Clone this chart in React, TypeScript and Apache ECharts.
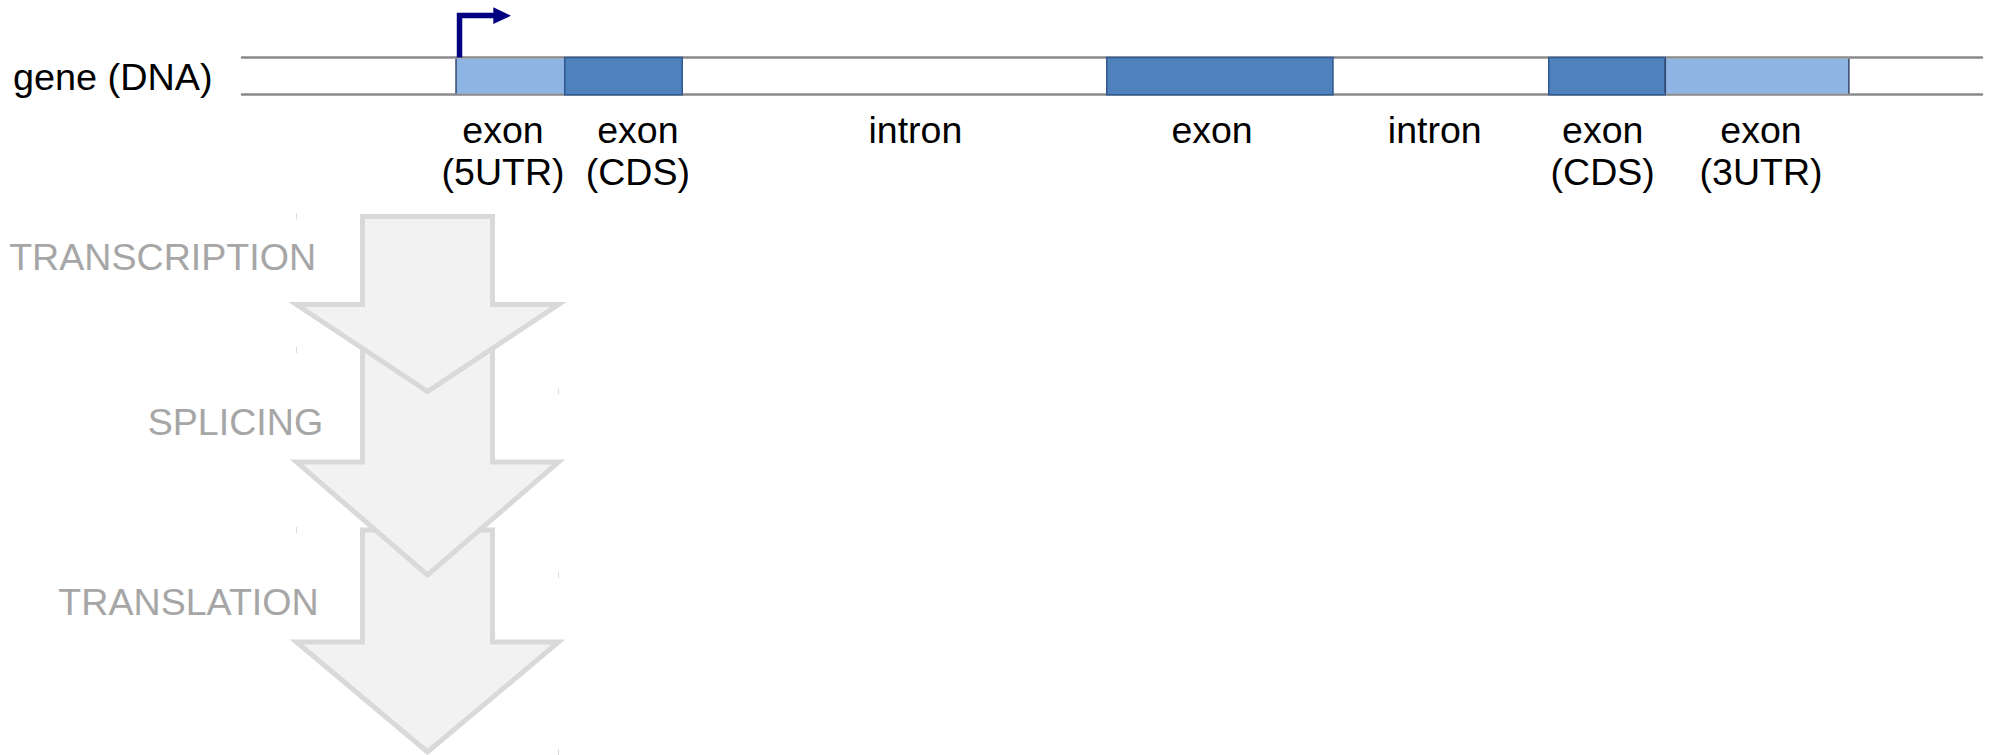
import React, { useEffect, useRef } from 'react';
import * as echarts from 'echarts';

// ---- data (gene coordinates, arbitrary units 0..1000) ----
const geneMin = 0;
const geneMax = 1000;
const exonStart = [123, 185.5, 497, 751, 818];
const exonEnd = [185.5, 253, 627, 818, 923.5];
const exonType = ['UTR', 'CDS', 'CDS', 'CDS', 'UTR'];
const featurePos = [150, 227.5, 387, 557.5, 685.5, 782, 873];
const featureLabels = ['exon\n(5UTR)', 'exon\n(CDS)', 'intron', 'exon', 'intron', 'exon\n(CDS)', 'exon\n(3UTR)'];
const tssPos = [123];
const trackLabel = 'gene (DNA)';
const steps = ['TRANSCRIPTION', 'SPLICING', 'TRANSLATION'];

const FONT = '"Liberation Sans", Arial, Helvetica, sans-serif';

// ---- layout of the decorative process arrows ----
const arrowLayout = [
  { top: 216.5, shoulder: 304.5, tip: 391.5, lx: 162.6, ly: 256.7 },
  { top: 350, shoulder: 462, tip: 575, lx: 235.4, ly: 421.5 },
  { top: 530, shoulder: 642, tip: 752, lx: 188.5, ly: 601.5 },
];
const STEM_L = 362.5, STEM_R = 492.5, HEAD_L = 296.5, HEAD_R = 558.5, MID = 427.5;

export default function App() {
  const ref = useRef<HTMLDivElement>(null);
  useEffect(() => {
    if (!ref.current) return;
    const chart = echarts.init(ref.current, undefined, { renderer: 'svg' });

    const arrowEls: any[] = [];
    // draw bottom arrow first so upper arrows overlap it
    for (let i = arrowLayout.length - 1; i >= 0; i--) {
      const a = arrowLayout[i];
      arrowEls.push({
        type: 'polygon',
        shape: {
          points: [
            [STEM_L, a.top], [STEM_R, a.top], [STEM_R, a.shoulder], [HEAD_R, a.shoulder],
            [MID, a.tip], [HEAD_L, a.shoulder], [STEM_L, a.shoulder],
          ],
        },
        style: { fill: '#f2f2f2', stroke: '#d9d9d9', lineWidth: 5, lineJoin: 'miter' },
        silent: true,
      });
    }
    const tickEls: any[] = [];
    arrowLayout.forEach((a) => {
      tickEls.push({ type: 'line', shape: { x1: HEAD_L, y1: a.top - 3, x2: HEAD_L, y2: a.top + 3 }, style: { stroke: '#dcdcdc', lineWidth: 1 } });
      tickEls.push({ type: 'line', shape: { x1: HEAD_R, y1: a.tip - 3, x2: HEAD_R, y2: a.tip + 3 }, style: { stroke: '#dcdcdc', lineWidth: 1 } });
    });
    const stepEls = steps.map((s, i) => ({
      type: 'text',
      x: arrowLayout[i].lx,
      y: arrowLayout[i].ly,
      z: 10,
      style: { text: s, fill: '#a6a6a6', font: `37.6px ${FONT}`, align: 'center', verticalAlign: 'middle' },
    }));

    const option: any = {
      animation: false,
      backgroundColor: '#ffffff',
      grid: { left: 242, right: 8, top: 57.5, height: 37.2, containLabel: false },
      xAxis: [
        {
          type: 'value', min: geneMin, max: geneMax, position: 'bottom',
          axisLine: { show: true, lineStyle: { color: '#8a8a8a', width: 2.5 } },
          axisTick: { show: false }, axisLabel: { show: false }, splitLine: { show: false },
        },
        {
          type: 'value', min: geneMin, max: geneMax, position: 'top',
          axisLine: { show: true, lineStyle: { color: '#8a8a8a', width: 2.5 } },
          axisTick: { show: false }, axisLabel: { show: false }, splitLine: { show: false },
        },
      ],
      yAxis: { type: 'value', min: 0, max: 1, show: false },
      graphic: [
        ...arrowEls,
        ...tickEls,
        ...stepEls,
        {
          type: 'text', x: 13, y: 76.7,
          style: { text: trackLabel, fill: '#000000', font: `37.8px ${FONT}`, align: 'left', verticalAlign: 'middle' },
        },
      ],
      series: [
        {
          type: 'custom',
          name: 'exons',
          xAxisIndex: 0,
          encode: { x: [0, 1] },
          data: exonStart.map((s, i) => [s, exonEnd[i]]),
          renderItem: (params: any, api: any) => {
            const i = params.dataIndex;
            const p0 = api.coord([api.value(0), 1]);
            const p1 = api.coord([api.value(1), 0]);
            const x0 = p0[0], x1 = p1[0], y0 = p0[1], y1 = p1[1];
            if (exonType[i] === 'CDS') {
              return {
                type: 'rect',
                shape: { x: x0, y: y0, width: x1 - x0, height: y1 - y0 },
                style: { fill: '#4f81bd', stroke: '#30598f', lineWidth: 1.5 },
              };
            }
            return {
              type: 'group',
              children: [
                { type: 'rect', shape: { x: x0, y: y0 + 1.3, width: x1 - x0, height: y1 - y0 - 2.6 }, style: { fill: '#8eb4e3' } },
                { type: 'line', shape: { x1: x0, y1: y0 + 1.3, x2: x0, y2: y1 - 1.3 }, style: { stroke: '#33456a', lineWidth: 1.5 } },
                { type: 'line', shape: { x1: x1, y1: y0 + 1.3, x2: x1, y2: y1 - 1.3 }, style: { stroke: '#33456a', lineWidth: 1.5 } },
              ],
            };
          },
        },
        {
          type: 'custom',
          name: 'tss',
          encode: { x: 0, y: 1 },
          data: tssPos.map((p) => [p, 1]),
          z: 5,
          renderItem: (params: any, api: any) => {
            const p = api.coord([api.value(0), 1]);
            const x = p[0] + 3.5;
            const y0 = p[1];
            return {
              type: 'group',
              children: [
                {
                  type: 'polyline',
                  shape: { points: [[x, y0], [x, y0 - 42], [x + 35, y0 - 42]] },
                  style: { stroke: '#000080', lineWidth: 5.5, fill: null, lineJoin: 'miter', lineCap: 'butt' },
                },
                {
                  type: 'polygon',
                  shape: { points: [[x + 33.8, y0 - 50.2], [x + 51.5, y0 - 41.8], [x + 33.8, y0 - 33.5]] },
                  style: { fill: '#000080' },
                },
              ],
            };
          },
        },
        {
          type: 'custom',
          name: 'labels',
          encode: { x: 0, y: 1 },
          data: featurePos.map((p) => [p, 0]),
          renderItem: (params: any, api: any) => {
            const p = api.coord([api.value(0), 0]);
            return {
              type: 'text',
              x: p[0],
              y: p[1] + 14,
              style: {
                text: featureLabels[params.dataIndex],
                fill: '#000000',
                font: `37.5px ${FONT}`,
                align: 'center',
                verticalAlign: 'top',
                lineHeight: 42.5,
              },
            };
          },
        },
      ],
    };
    chart.setOption(option);
    return () => chart.dispose();
  }, []);
  return (
    <div
      ref={ref}
      style={{ position: 'absolute', left: 0, top: 0, width: 1990, height: 755, background: '#fff' }}
    />
  );
}
